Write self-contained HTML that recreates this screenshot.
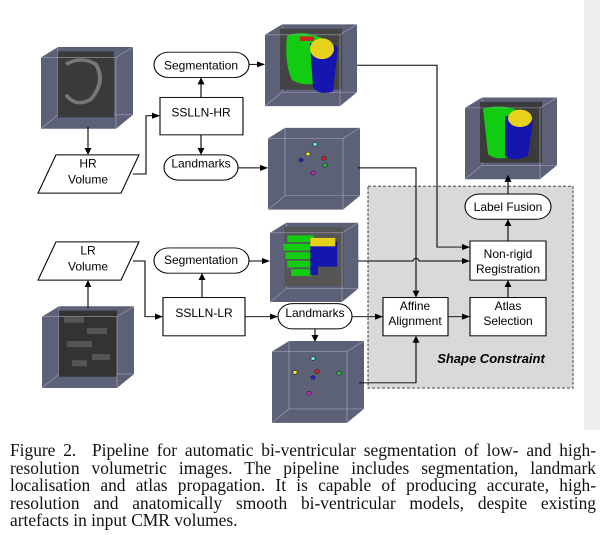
<!DOCTYPE html>
<html><head><meta charset="utf-8"><style>
html,body{margin:0;padding:0;background:#fff;}
body{width:600px;height:535px;position:relative;overflow:hidden;}
svg{position:absolute;left:0;top:0;}
.cap{position:absolute;left:10px;top:442px;width:586px;font-family:"Liberation Serif",serif;font-size:17.4px;line-height:17.6px;color:#111;white-space:nowrap;}
.cap div{text-align:justify;text-align-last:justify;white-space:normal;}
.cap div.l{text-align-last:left;}
</style></head><body>
<svg width="600" height="535" viewBox="0 0 600 535" font-family="Liberation Sans, sans-serif" font-size="12">
<defs>
<marker id="a" markerWidth="8" markerHeight="8" refX="7" refY="4" orient="auto" markerUnits="userSpaceOnUse"><path d="M0,0.5 L8,4 L0,7.5 z" fill="#000"/></marker>
<g id="cube">
<polygon points="0,12 17,0 92,0 92,78 75,94 0,94" fill="#5d6178"/>
<line x1="17" y1="0" x2="17" y2="78" stroke="#9ea1b6" stroke-width="0.7"/>
<line x1="17" y1="78" x2="92" y2="78" stroke="#9ea1b6" stroke-width="0.7"/>
<line x1="17" y1="78" x2="0" y2="94" stroke="#9ea1b6" stroke-width="0.7"/>
</g>
<g id="edges">
<polyline points="0,12 75,12 75,94" fill="none" stroke="#9ea1b6" stroke-width="0.7"/>
<line x1="75" y1="12" x2="92" y2="0" stroke="#9ea1b6" stroke-width="0.7"/>
</g>
</defs>
<rect x="584" y="0" width="16" height="430" fill="#eeeeee"/>
<g transform="scale(1,0.87)">
<rect x="368" y="214" width="205" height="232" fill="#d9d9d9" stroke="#333" stroke-dasharray="3,2"/>

<g transform="translate(41,54)"><use href="#cube"/><rect x="17" y="5" width="56" height="76" fill="#3a3a3a"/><path d="M25,20 q15,-10 30,0 q10,20 -5,40 q-15,10 -25,-5" fill="none" stroke="#777" stroke-width="4"/><use href="#edges"/></g>
<g transform="translate(265,28)"><use href="#cube"/><rect x="15" y="5" width="62" height="70" fill="#444"/><path d="M22,13 q20,-8 40,6 l0,45 q-20,10 -35,0 q-8,-20 -5,-51z" fill="#11cc11"/><path d="M45,22 q20,-5 28,5 l-5,50 q-15,5 -20,-5 z" fill="#1515b0"/><ellipse cx="57" cy="28" rx="12" ry="12" fill="#e6d21a"/><rect x="35" y="14" width="14" height="5" fill="#d02020"/><use href="#edges"/></g>
<g transform="translate(268,147)"><use href="#cube"/><use href="#edges"/></g>
<g stroke-width="0.7" stroke="#222">
<circle cx="315" cy="166" r="2.2" fill="#6ee"/><circle cx="308" cy="177" r="2.2" fill="#ee3"/><circle cx="301" cy="184" r="2.2" fill="#22c"/><circle cx="324" cy="182" r="2.2" fill="#d22"/><circle cx="325" cy="190" r="2.2" fill="#2c2"/><circle cx="313" cy="199" r="2.2" fill="#c2c"/>
</g>
<g transform="translate(465,112)"><use href="#cube"/><rect x="15" y="5" width="62" height="70" fill="#3b3b3b"/><path d="M18,13 q20,-6 35,2 l0,50 q-20,10 -30,0 z" fill="#11cc11"/><path d="M40,22 q20,-5 28,5 l-5,40 q-15,8 -23,0 z" fill="#1515b0"/><ellipse cx="55" cy="24" rx="12" ry="10" fill="#e6d21a"/><use href="#edges"/></g>
<g transform="translate(270,256) scale(0.96,0.97)"><use href="#cube"/><rect x="15" y="5" width="62" height="70" fill="#555"/><g fill="#11cc11"><rect x="18" y="15" width="28" height="8"/><rect x="14" y="25" width="30" height="8"/><rect x="16" y="35" width="30" height="8"/><rect x="18" y="45" width="28" height="8"/><rect x="22" y="55" width="22" height="8"/></g><path d="M42,22 h28 v30 h-20 v10 h-8z" fill="#1515b0"/><rect x="42" y="18" width="26" height="10" fill="#e6d21a"/><use href="#edges"/></g>
<g transform="translate(42,352)"><use href="#cube"/><rect x="17" y="5" width="58" height="76" fill="#333"/><g fill="#555"><rect x="22" y="12" width="20" height="7"/><rect x="45" y="25" width="20" height="7"/><rect x="25" y="40" width="25" height="7"/><rect x="50" y="55" width="18" height="7"/><rect x="30" y="62" width="15" height="7"/></g><use href="#edges"/></g>
<g transform="translate(272,392)"><use href="#cube"/><use href="#edges"/></g>
<g stroke-width="0.7" stroke="#222">
<circle cx="313" cy="412" r="2.2" fill="#6ee"/><circle cx="295" cy="428" r="2.2" fill="#ee3"/><circle cx="317" cy="427" r="2.2" fill="#d22"/><circle cx="313" cy="434" r="2.2" fill="#22c"/><circle cx="339" cy="429" r="2.2" fill="#2c2"/><circle cx="309" cy="452" r="2.2" fill="#c2c"/>
</g>

<g stroke="#000" stroke-width="1.1" fill="none" marker-end="url(#a)">
<line x1="88" y1="146" x2="88" y2="177"/>
<polyline points="133,200 146,200 146,133 159,133"/>
<line x1="201" y1="112" x2="201" y2="90"/>
<line x1="201" y1="155" x2="201" y2="177"/>
<line x1="249" y1="74" x2="264" y2="74"/>
<line x1="238" y1="193" x2="267" y2="193"/>
<polyline points="357,75 437,75 437,284 469,284"/>
<polyline points="358,193 416,193 416,341"/>
<path d="M358,300 L413,300 A3,3 0 0 1 419,300 L469,300"/>
<line x1="88" y1="354" x2="88" y2="323"/>
<polyline points="133,300 145,300 145,364 162,364"/>
<line x1="202" y1="342" x2="202" y2="315"/>
<line x1="249" y1="300" x2="269" y2="300"/>
<line x1="245" y1="364" x2="277" y2="364"/>
<line x1="352" y1="364" x2="382" y2="364"/>
<line x1="315" y1="378" x2="315" y2="392"/>
<polyline points="359,440 416,440 416,387"/>
<line x1="448" y1="364" x2="469" y2="364"/>
<line x1="508" y1="342" x2="508" y2="323"/>
<line x1="508" y1="277" x2="508" y2="253"/>
<line x1="508" y1="223" x2="508" y2="202"/>
</g>

<g stroke="#000" stroke-width="1.1" fill="#fff">
<polygon points="56,178 139,178 121,222 38,222"/>
<polygon points="56,278 139,278 121,322 38,322"/>
<rect x="160" y="112" width="83" height="43"/>
<rect x="163" y="342" width="82" height="44"/>
<rect x="154" y="60" width="95" height="29" rx="14.5"/>
<rect x="164" y="178" width="74" height="29" rx="14.5"/>
<rect x="154" y="285" width="95" height="29" rx="14.5"/>
<rect x="278" y="349" width="74" height="29" rx="14.5"/>
<rect x="465" y="223" width="86" height="29" rx="14.5"/>
<rect x="470" y="277" width="76" height="45"/>
<rect x="383" y="342" width="65" height="44"/>
<rect x="470" y="342" width="76" height="44"/>
</g>
</g>
<text x="491" y="363" text-anchor="middle" font-weight="bold" font-style="italic" font-size="13">Shape Constraint</text>
<g text-anchor="middle" fill="#000">
<text x="88" y="167.5">HR</text><text x="88" y="183.5">Volume</text>
<text x="88" y="254.5">LR</text><text x="88" y="270.5">Volume</text>
<text x="201" y="116.7">SSLLN-HR</text>
<text x="204" y="316.8">SSLLN-LR</text>
<text x="201" y="69.3">Segmentation</text>
<text x="201" y="167.5">Landmarks</text>
<text x="201" y="264.1">Segmentation</text>
<text x="315" y="316.8">Landmarks</text>
<text x="508" y="211.1">Label Fusion</text>
<text x="508" y="258">Non-rigid</text><text x="508" y="273">Registration</text>
<text x="415" y="310">Affine</text><text x="415" y="325">Alignment</text>
<text x="508" y="310">Atlas</text><text x="508" y="325">Selection</text>
</g>
</svg>
<div class="cap">
<div>Figure 2.&nbsp; Pipeline for automatic bi-ventricular segmentation of low- and high-</div>
<div>resolution volumetric images. The pipeline includes segmentation, landmark</div>
<div>localisation and atlas propagation. It is capable of producing accurate, high-</div>
<div>resolution and anatomically smooth bi-ventricular models, despite existing</div>
<div class="l">artefacts in input CMR volumes.</div>
</div>
</body></html>
